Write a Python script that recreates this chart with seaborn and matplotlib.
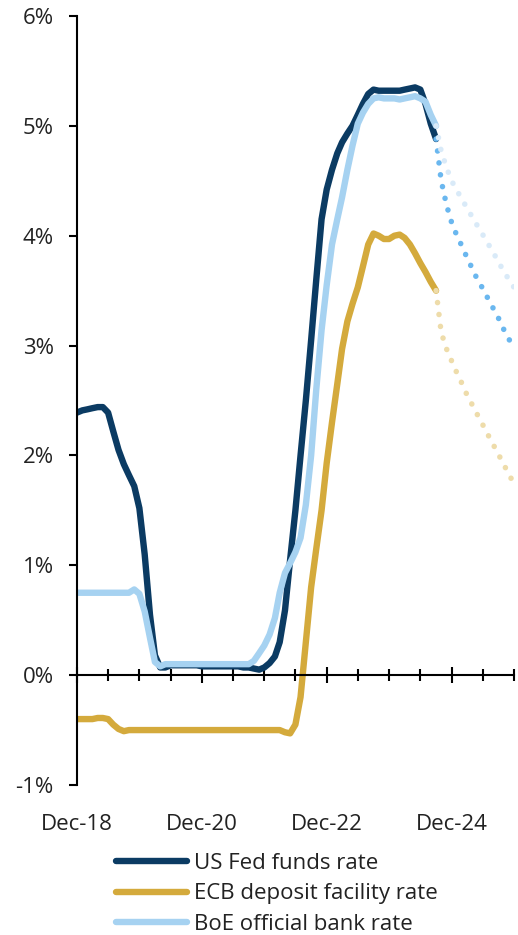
import matplotlib
matplotlib.use("Agg")
import matplotlib.pyplot as plt
import matplotlib.dates as mdates
from matplotlib.ticker import FixedLocator, FuncFormatter
import pandas as pd
import seaborn as sns

# Policy rates, monthly, Dec-18 .. Sep-24 (70 months)
fed_rate = [
    2.39, 2.41, 2.42, 2.43, 2.44, 2.44, 2.39, 2.22, 2.05, 1.92,
    1.82, 1.72, 1.52, 1.10, 0.55, 0.18, 0.07, 0.07, 0.09, 0.09,
    0.09, 0.09, 0.09, 0.09, 0.08, 0.08, 0.08, 0.08, 0.08, 0.08,
    0.08, 0.08, 0.07, 0.07, 0.06, 0.05, 0.07, 0.11, 0.17, 0.30,
    0.59, 1.05, 1.50, 2.00, 2.50, 3.05, 3.60, 4.15, 4.42, 4.60,
    4.75, 4.85, 4.93, 5.00, 5.10, 5.20, 5.29, 5.33, 5.32, 5.32,
    5.32, 5.32, 5.32, 5.33, 5.34, 5.35, 5.33, 5.20, 5.02, 4.88,
]
ecb_rate = [
    -0.40, -0.40, -0.40, -0.40, -0.39, -0.39, -0.40, -0.45, -0.49, -0.51,
    -0.50, -0.50, -0.50, -0.50, -0.50, -0.50, -0.50, -0.50, -0.50, -0.50,
    -0.50, -0.50, -0.50, -0.50, -0.50, -0.50, -0.50, -0.50, -0.50, -0.50,
    -0.50, -0.50, -0.50, -0.50, -0.50, -0.50, -0.50, -0.50, -0.50, -0.50,
    -0.52, -0.53, -0.45, -0.20, 0.30, 0.80, 1.15, 1.50, 1.93, 2.30,
    2.65, 2.97, 3.22, 3.38, 3.53, 3.72, 3.92, 4.02, 4.00, 3.97,
    3.97, 4.00, 4.01, 3.98, 3.92, 3.84, 3.75, 3.67, 3.58, 3.50,
]
boe_rate = [
    0.75, 0.75, 0.75, 0.75, 0.75, 0.75, 0.75, 0.75, 0.75, 0.75,
    0.75, 0.78, 0.74, 0.58, 0.34, 0.12, 0.08, 0.10, 0.10, 0.10,
    0.10, 0.10, 0.10, 0.10, 0.10, 0.10, 0.10, 0.10, 0.10, 0.10,
    0.10, 0.10, 0.10, 0.10, 0.13, 0.20, 0.27, 0.37, 0.52, 0.75,
    0.93, 1.02, 1.12, 1.25, 1.55, 2.00, 2.60, 3.14, 3.55, 3.92,
    4.15, 4.35, 4.60, 4.82, 5.02, 5.12, 5.20, 5.25, 5.26, 5.25,
    5.25, 5.25, 5.24, 5.25, 5.26, 5.27, 5.25, 5.22, 5.10, 5.00,
]

# Market-implied paths, Sep-24 .. Dec-25 (16 months)
fed_path = [4.88, 4.50, 4.28, 4.12, 4.00, 3.90, 3.80, 3.70,
            3.60, 3.52, 3.43, 3.34, 3.25, 3.15, 3.06, 2.97]
ecb_path = [3.50, 3.12, 2.97, 2.86, 2.75, 2.65, 2.55, 2.46,
            2.37, 2.28, 2.19, 2.10, 2.01, 1.92, 1.83, 1.74]
boe_path = [5.00, 4.77, 4.62, 4.50, 4.41, 4.33, 4.25, 4.17,
            4.09, 4.01, 3.93, 3.85, 3.76, 3.68, 3.60, 3.53]

series_names = ["US Fed funds rate", "ECB deposit facility rate", "BoE official bank rate"]
y_ticks = [-1, 0, 1, 2, 3, 4, 5, 6]

months = pd.date_range("2018-12-01", "2024-09-01", freq="MS")
path_months = pd.date_range("2024-09-01", "2025-12-01", freq="MS")

sns.set_theme(style="white")
plt.rcParams["font.family"] = ["Open Sans", "DejaVu Sans"]
ink = "#222222"
plt.rcParams["text.color"] = ink
plt.rcParams["xtick.color"] = "black"
plt.rcParams["ytick.color"] = "black"
plt.rcParams["xtick.labelcolor"] = ink
plt.rcParams["ytick.labelcolor"] = ink

fig = plt.figure(figsize=(5.18, 9.35), dpi=100)
W, H = 518, 935
ax = fig.add_axes([77 / W, 1 - 785 / H, (514 - 77) / W, (785 - 16) / H])

line_colors = ["#0b3b63", "#d4aa3c", "#a6d2f1"]
path_colors = ["#6ab7ef", "#eedcaa", "#d9eaf8"]

for vals, name, col in zip([fed_rate, ecb_rate, boe_rate], series_names, line_colors):
    sns.lineplot(x=months, y=vals, ax=ax, color=col, lw=4.6, label=name,
                 solid_capstyle="round", solid_joinstyle="round")

for vals, col in zip([fed_path, boe_path, ecb_path], [path_colors[0], path_colors[2], path_colors[1]]):
    sns.lineplot(x=path_months, y=vals, ax=ax, color=col, lw=4.0,
                 linestyle=(0, (0.01, 2.15)), dash_capstyle="round", legend=False)

ax.set_xlim(pd.Timestamp("2018-12-01"), pd.Timestamp("2025-12-01"))
ax.set_ylim(-1, 6)
ax.set_xlabel("")
ax.set_ylabel("")

for s in ["top", "right"]:
    ax.spines[s].set_visible(False)
ax.spines["left"].set_linewidth(1.5)
ax.spines["left"].set_color("black")
ax.spines["bottom"].set_position(("data", 0))
ax.spines["bottom"].set_linewidth(1.5)
ax.spines["bottom"].set_color("black")

ax.yaxis.set_major_locator(FixedLocator(y_ticks))
ax.yaxis.set_major_formatter(FuncFormatter(lambda v, p: f"{v:.0f}%"))
ax.tick_params(axis="y", which="major", direction="out", length=5.8, width=1.5,
               pad=11, labelsize=16, left=True)

ax.xaxis.set_major_locator(mdates.YearLocator(base=2, month=12, day=1))
ax.xaxis.set_major_formatter(mdates.DateFormatter("%b-%y"))
ax.xaxis.set_minor_locator(mdates.MonthLocator(bymonth=[6, 12]))
ax.tick_params(axis="x", which="major", direction="inout", length=11.5, width=1.5,
               pad=94, labelsize=16, bottom=True)
ax.tick_params(axis="x", which="minor", direction="inout", length=8, width=1.5,
               bottom=True)
ax.grid(False)

handles, labels = ax.get_legend_handles_labels()
if ax.legend_ is not None:
    ax.legend_.remove()
leg = fig.legend(handles[:3], labels[:3], loc="upper left",
                 bbox_to_anchor=(116 / W, 1 - 853 / H), frameon=False,
                 borderpad=0, borderaxespad=0, handlelength=3.2,
                 handletextpad=0.3, labelspacing=0.42, fontsize=16)
for h in leg.get_lines():
    h.set_linewidth(4.6)
    h.set_solid_capstyle("round")

fig.savefig("out.png", dpi=100)
